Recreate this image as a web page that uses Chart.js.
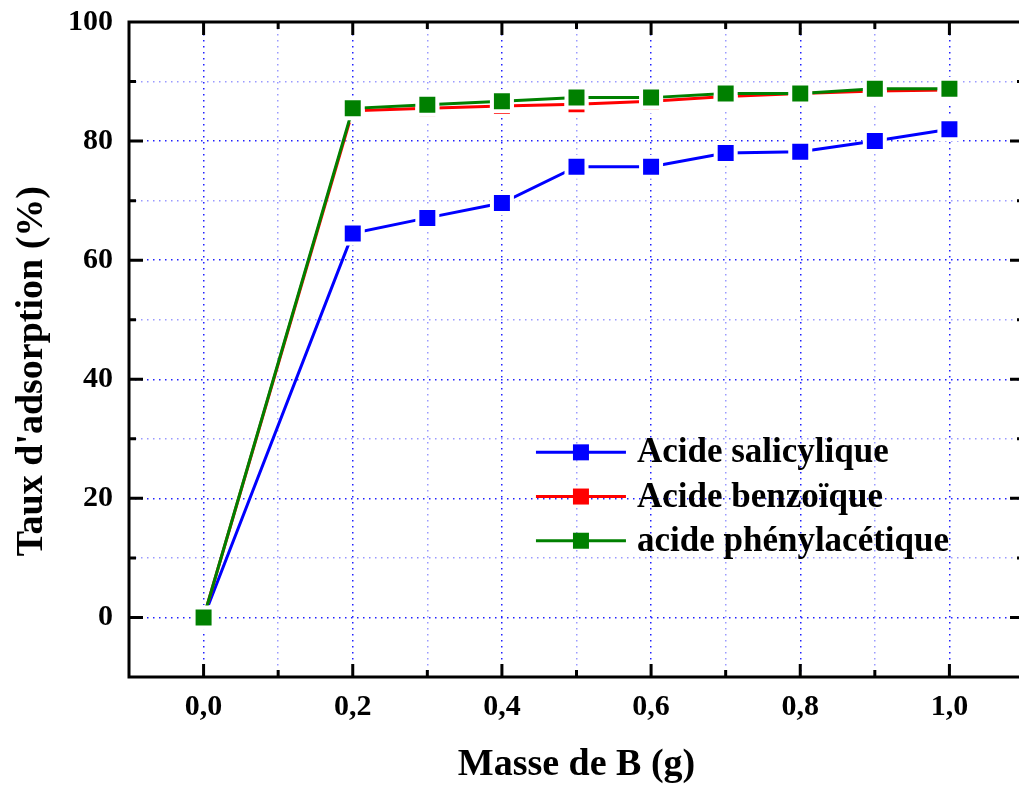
<!DOCTYPE html>
<html>
<head>
<meta charset="utf-8">
<script src="https://cdn.jsdelivr.net/npm/chart.js@4/dist/chart.umd.min.js"></script>
<style>
  html, body { margin: 0; padding: 0; background: #fff; overflow: hidden; width: 1019px; height: 790px; }
  #c { display: block; }
</style>
</head>
<body>
<canvas id="c" width="1026" height="790" style="width:1026px;height:790px"></canvas>
<script>
// ---- data ----
const masses = [0.0, 0.2, 0.3, 0.4, 0.5, 0.6, 0.7, 0.8, 0.9, 1.0];
const salicylique = [0, 64.5, 67.1, 69.6, 75.7, 75.7, 78.0, 78.2, 80.0, 82.0];
const benzoique   = [0, 85.1, 85.5, 85.9, 86.2, 86.7, 87.5, 88.0, 88.4, 88.6];
const phenylacetique = [0, 85.5, 86.1, 86.7, 87.3, 87.3, 88.0, 88.0, 88.8, 88.8];
const seriesNames = ['Acide salicylique', 'Acide benzoïque', 'acide phénylacétique'];
const seriesColors = ['#0000FF', '#FF0000', '#008000'];
const xTickLabels = ['0,0', '0,2', '0,4', '0,6', '0,8', '1,0'];
const yTickLabels = ['0', '20', '40', '60', '80', '100'];
const xTitle = 'Masse de B (g)';
const yTitle = "Taux d'adsorption (%)";

const FONT = "'Times New Roman', 'Liberation Serif', serif";

function pts(ys) { return masses.map((x, i) => ({ x: x, y: ys[i] })); }
const allSeries = [salicylique, benzoique, phenylacetique];

const datasets = allSeries.map((ys, i) => ({
  label: seriesNames[i],
  data: pts(ys),
  borderColor: seriesColors[i],
  backgroundColor: seriesColors[i],
  borderWidth: 3,
  pointStyle: 'rect',
  pointRadius: 14.14,
  pointHoverRadius: 14.14,
  pointBackgroundColor: seriesColors[i],
  pointBorderColor: '#ffffff',
  pointBorderWidth: 4,
  tension: 0,
  order: 3 - i,
  clip: false
}));

function near(a, b) { return Math.abs(a - b) < 1e-6; }
function isMajorX(v) { return near(v * 5, Math.round(v * 5)); }
function isMajorY(v) { return near(v / 20, Math.round(v / 20)); }
function noPad(s) { s.paddingTop = 0; s.paddingBottom = 0; s.paddingLeft = 0; s.paddingRight = 0; }

const framePlugin = {
  id: 'frame',
  afterDatasetsDraw(chart) {
    const ctx = chart.ctx, a = chart.chartArea;
    const xs = chart.scales.x, ys = chart.scales.y;
    ctx.save();
    ctx.strokeStyle = '#000';
    ctx.lineWidth = 3;
    ctx.strokeRect(a.left, a.top, a.right - a.left, a.bottom - a.top);
    ctx.beginPath();
    xs.ticks.forEach(t => {
      const v = t.value;
      if (v <= xs.min + 1e-6 || v >= xs.max - 1e-6) return;
      const px = xs.getPixelForValue(v);
      const len = isMajorX(v) ? 13 : 7;
      ctx.moveTo(px, a.bottom); ctx.lineTo(px, a.bottom - len);
      ctx.moveTo(px, a.top); ctx.lineTo(px, a.top + len);
    });
    ys.ticks.forEach(t => {
      const v = t.value;
      if (v <= ys.min + 1e-6 || v >= ys.max - 1e-6) return;
      const py = ys.getPixelForValue(v);
      const len = isMajorY(v) ? 14 : 7;
      ctx.moveTo(a.left, py); ctx.lineTo(a.left + len, py);
      ctx.moveTo(a.right, py); ctx.lineTo(a.right - len, py);
    });
    ctx.stroke();
    ctx.restore();
  },
  afterDraw(chart) {
    const ctx = chart.ctx, a = chart.chartArea;
    const w = a.right - a.left, h = a.bottom - a.top;
    // y axis title
    ctx.save();
    ctx.font = 'bold 38px ' + FONT;
    ctx.fillStyle = '#000';
    ctx.textAlign = 'center';
    ctx.textBaseline = 'middle';
    ctx.translate(32, a.top + h * 0.533);
    ctx.rotate(-Math.PI / 2);
    ctx.fillText(yTitle, 0, 0);
    ctx.restore();
    // legend inside the plot
    const x0 = a.left + w * 0.4547;
    const lineLen = 90;
    const y0 = a.top + h * 0.657;
    const dy = 44.2;
    ctx.save();
    ctx.font = 'bold 35px ' + FONT;
    ctx.textBaseline = 'middle';
    ctx.textAlign = 'left';
    chart.data.datasets.forEach((ds, i) => {
      const y = y0 + i * dy;
      ctx.strokeStyle = ds.borderColor;
      ctx.lineWidth = 3;
      ctx.beginPath();
      ctx.moveTo(x0, y); ctx.lineTo(x0 + lineLen, y);
      ctx.stroke();
      ctx.fillStyle = ds.borderColor;
      ctx.fillRect(x0 + lineLen / 2 - 8, y - 8, 16, 16);
      ctx.fillStyle = '#000';
      ctx.fillText(ds.label, x0 + lineLen + 11, y + 1);
    });
    ctx.restore();
  }
};

new Chart(document.getElementById('c'), {
  type: 'line',
  data: { datasets: datasets },
  plugins: [framePlugin],
  options: {
    responsive: false,
    maintainAspectRatio: false,
    devicePixelRatio: 1,
    animation: false,
    events: [],
    layout: { autoPadding: false, padding: { top: 22, right: 2, left: 0, bottom: 0 } },
    plugins: { legend: { display: false }, tooltip: { enabled: false } },
    scales: {
      x: {
        type: 'linear',
        min: -0.1, max: 1.1,
        afterFit(s) { s.height = 113; noPad(s); },
        ticks: {
          stepSize: 0.1,
          autoSkip: false,
          maxRotation: 0,
          padding: 12,
          color: '#000',
          font: { family: FONT, size: 30, weight: 'bold' },
          callback(v) {
            if (!isMajorX(v) || v < -1e-6 || v > 1 + 1e-6) return '';
            return xTickLabels[Math.round(v * 5)];
          }
        },
        grid: {
          drawTicks: false,
          lineWidth: 1.5,
          color(c) {
            const v = c.tick ? c.tick.value : 0;
            if (v <= -0.1 + 1e-6 || v >= 1.1 - 1e-6) return 'rgba(0,0,0,0)';
            return isMajorX(v) ? '#2020ff' : '#9a9aff';
          }
        },
        border: { display: false, dash: [1.5, 4.5] },
        title: {
          display: true, text: xTitle, color: '#000',
          font: { family: FONT, size: 38, weight: 'bold' },
          padding: { top: 0, bottom: 2 }
        }
      },
      y: {
        type: 'linear',
        min: -10, max: 100,
        afterFit(s) { s.width = 129; noPad(s); },
        ticks: {
          stepSize: 10,
          autoSkip: false,
          padding: 16,
          color: '#000',
          font: { family: FONT, size: 30, weight: 'bold' },
          callback(v) {
            if (!isMajorY(v) || v < 0) return '';
            return yTickLabels[Math.round(v / 20)];
          }
        },
        grid: {
          drawTicks: false,
          lineWidth: 1.5,
          color(c) {
            const v = c.tick ? c.tick.value : 0;
            if (v <= -10 + 1e-6 || v >= 100 - 1e-6) return 'rgba(0,0,0,0)';
            return isMajorY(v) ? '#2020ff' : '#9a9aff';
          }
        },
        border: { display: false, dash: [1.5, 4.5] },
        title: { display: false }
      }
    }
  }
});
</script>
</body>
</html>
